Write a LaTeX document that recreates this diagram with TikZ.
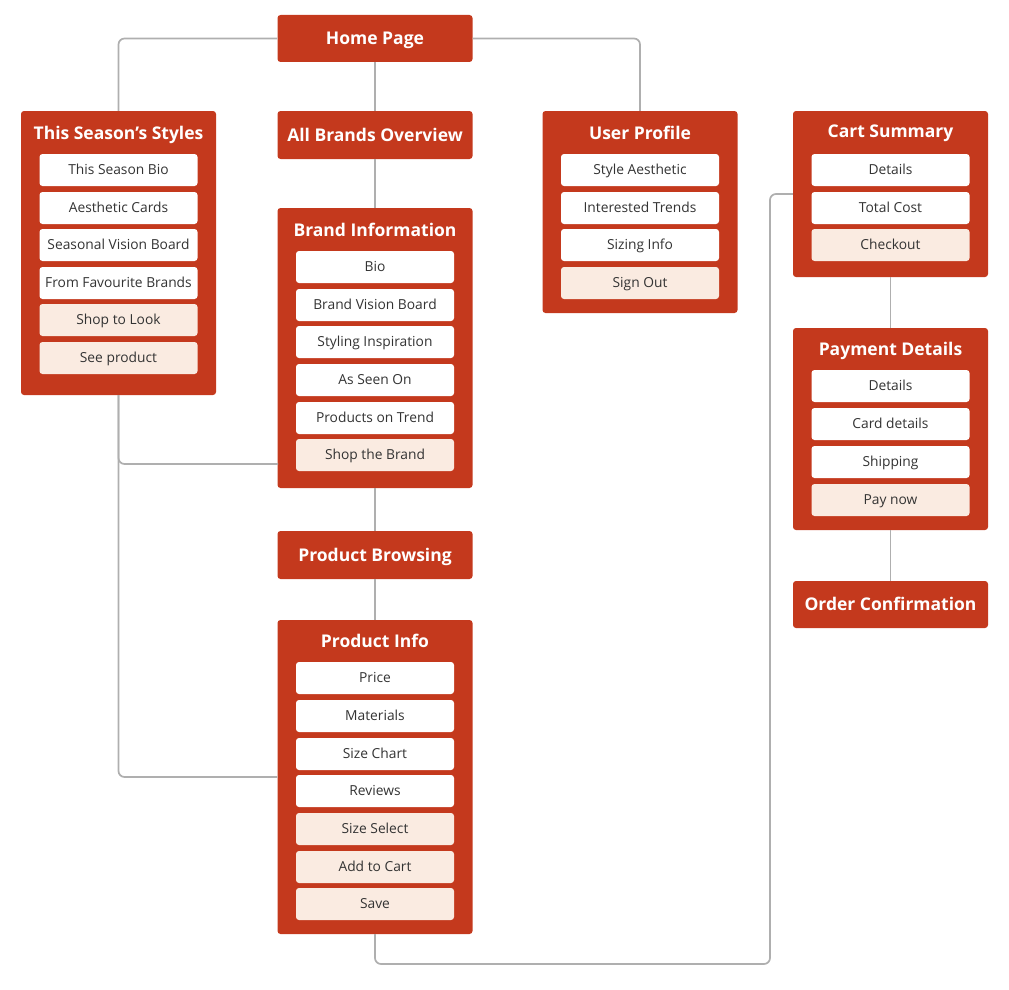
\documentclass[tikz,border=0pt]{standalone}
\usepackage{fontspec}
\setmainfont{Open Sans}
\definecolor{myred}{HTML}{C4391D}
\definecolor{hl}{HTML}{FAEBE1}
\definecolor{linec}{HTML}{AFAFAF}
\definecolor{textc}{HTML}{333333}
\tikzset{
 cont/.style={fill=myred, rounded corners=3pt, minimum width=195pt, inner sep=0pt},
 ttl/.style={text=white, inner sep=0pt, text height=12.4pt, text depth=0pt, font=\bfseries\fontsize{17.5}{19}\selectfont},
 item/.style={fill=white, rounded corners=3pt, minimum width=158pt, minimum height=32pt, inner sep=0pt, text height=9.8pt, text depth=0pt, font=\fontsize{13.8}{15}\selectfont, text=textc},
 hitem/.style={item, fill=hl},
 conn/.style={draw=linec, line width=1.7pt, rounded corners=6pt}
}
\begin{document}
\begin{tikzpicture}[x=1pt,y=-1pt]
\useasboundingbox (0,0) rectangle (1009,990);
\coordinate (turn) at (770,964);
\coordinate (brandin) at (278,464);
% containers
\node[cont, ttl, minimum height=47pt] (home) at (375,38.5) {Home Page};
\node[cont, minimum height=284pt] (styles) at (118.5,253) {};
\node[cont, ttl, minimum height=48pt] (brands) at (375,135) {All Brands Overview};
\node[cont, minimum height=280pt] (brand) at (375,348) {};
\node[cont, ttl, minimum height=48pt] (browse) at (375,555) {Product Browsing};
\node[cont, minimum height=314pt] (pinfo) at (375,777) {};
\node[cont, minimum height=202pt] (user) at (640,212) {};
\node[cont, minimum height=166pt] (cart) at (890.5,194) {};
\node[cont, minimum height=202pt] (pay) at (890.5,429) {};
\node[cont, ttl, minimum height=47pt] (order) at (890.5,604.5) {Order Confirmation};
% titles
\node[ttl] (stylesT) at (118.5,133) {This Season{\char"27}s Styles};
\node[ttl] (brandT) at (375,230) {Brand Information};
\node[ttl] (pinfoT) at (375,641) {Product Info};
\node[ttl] (userT) at (640,133) {User Profile};
\node[ttl] (cartT) at (890.5,131) {Cart Summary};
\node[ttl] (payT) at (890.5,349) {Payment Details};
% This Season's Styles items
\node[item] (s1) at (118.5,170) {This Season Bio};
\node[item] (s2) at (118.5,208) {Aesthetic Cards};
\node[item] (s3) at (118.5,245) {Seasonal Vision Board};
\node[item] (s4) at (118.5,283) {From Favourite Brands};
\node[hitem] (s5) at (118.5,320) {Shop to Look};
\node[hitem] (s6) at (118.5,358) {See product};
% Brand Information items
\node[item] (b1) at (375,267) {Bio};
\node[item] (b2) at (375,305) {Brand Vision Board};
\node[item] (b3) at (375,342) {Styling Inspiration};
\node[item] (b4) at (375,380) {As Seen On};
\node[item] (b5) at (375,418) {Products on Trend};
\node[hitem] (b6) at (375,455) {Shop the Brand};
% Product Info items
\node[item] (p1) at (375,678) {Price};
\node[item] (p2) at (375,716) {Materials};
\node[item] (p3) at (375,754) {Size Chart};
\node[item] (p4) at (375,791) {Reviews};
\node[hitem] (p5) at (375,829) {Size Select};
\node[hitem] (p6) at (375,867) {Add to Cart};
\node[hitem] (p7) at (375,904) {Save};
% User Profile items
\node[item] (u1) at (640,170) {Style Aesthetic};
\node[item] (u2) at (640,208) {Interested Trends};
\node[item] (u3) at (640,245) {Sizing Info};
\node[hitem] (u4) at (640,283) {Sign Out};
% Cart items
\node[item] (c1) at (890.5,170) {Details};
\node[item] (c2) at (890.5,208) {Total Cost};
\node[hitem] (c3) at (890.5,245) {Checkout};
% Payment items
\node[item] (y1) at (890.5,386) {Details};
\node[item] (y2) at (890.5,424) {Card details};
\node[item] (y3) at (890.5,462) {Shipping};
\node[hitem] (y4) at (890.5,500) {Pay now};
% connectors
\draw[conn] (home.west) -| (styles.north);
\draw[conn] (home.east) -| (user.north);
\draw[conn] (home.south) -- (brands.north);
\draw[conn] (brands.south) -- (brand.north);
\draw[conn] (styles.south) |- (brandin);
\draw[conn] (styles.south) |- (pinfo.west);
\draw[conn] (brand.south) -- (browse.north);
\draw[conn] (browse.south) -- (pinfo.north);
\draw[conn] (pinfo.south) |- (turn) |- (cart.west);
\draw[conn] (cart.south) -- (pay.north);
\draw[conn] (pay.south) -- (order.north);
\end{tikzpicture}
\end{document}
